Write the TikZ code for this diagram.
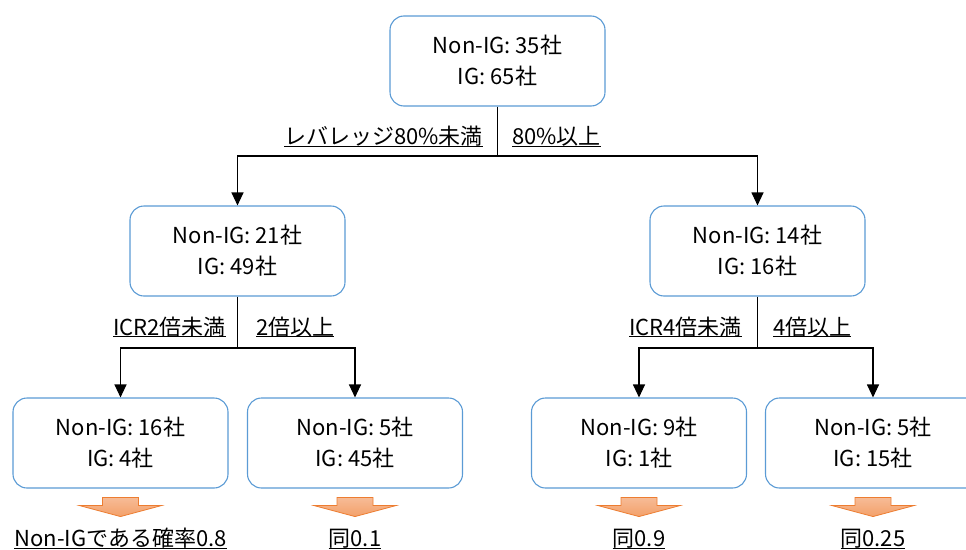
\documentclass[tikz,border=0pt]{standalone}
\usepackage{fontspec}
\setmainfont{Noto Sans CJK JP}
\usetikzlibrary{arrows.meta}
\definecolor{boxblue}{RGB}{91,155,213}
\definecolor{orline}{RGB}{237,125,49}
\definecolor{ortop}{RGB}{248,200,172}
\definecolor{orbot}{RGB}{243,160,105}
\newcommand\myul[1]{\setbox0\hbox{#1}\rlap{\rule[-2.2pt]{\wd0}{1.1pt}}\box0}
\begin{document}
\begin{tikzpicture}[x=1pt,y=-1pt,
  box/.style={draw=boxblue, line width=1.1pt, rounded corners=14pt, fill=white,
    minimum width=215pt, minimum height=90pt, align=center,
    font=\fontsize{22}{31}\selectfont, inner sep=0pt},
  conn/.style={line width=1.1pt, black},
  arr/.style={conn, -{Triangle[length=13pt,width=12pt]}},
  lab/.style={font=\fontsize{22}{26}\selectfont, inner sep=0pt},
  oarrow/.style={draw=orline, line width=0.8pt, top color=ortop, bottom color=orbot}
]
\clip (0,0) rectangle (966,549);
\useasboundingbox (0,0) rectangle (966,549);
% boxes
\node[box] (top) at (497.5,61) {Non-IG: 35社\\IG: 65社};
\node[box] (l1) at (237.5,251) {Non-IG: 21社\\IG: 49社};
\node[box] (r1) at (757.5,251) {Non-IG: 14社\\IG: 16社};
\node[box] (l2a) at (120.5,443) {Non-IG: 16社\\IG: 4社};
\node[box] (l2b) at (355,443) {Non-IG: 5社\\IG: 45社};
\node[box] (r2a) at (639,443) {Non-IG: 9社\\IG: 1社};
\node[box] (r2b) at (873,443) {Non-IG: 5社\\IG: 15社};
% splits
\coordinate (s0) at (497.5,156);
\coordinate (s1) at (237.5,348);
\coordinate (s2) at (757.5,348);
\draw[conn] (top) -- (s0);
\draw[arr] (s0) -| (l1);
\draw[arr] (s0) -| (r1);
\draw[conn] (l1) -- (s1);
\draw[arr] (s1) -| (l2a);
\draw[arr] (s1) -| (l2b);
\draw[conn] (r1) -- (s2);
\draw[arr] (s2) -| (r2a);
\draw[arr] (s2) -| (r2b);
% labels
\node[lab, anchor=base east] (t1) at (483,144.5) {\myul{レバレッジ80\%未満}};
\node[lab, anchor=base west] (t2) at (512,144.5) {\myul{80\%以上}};
\node[lab, anchor=base east] (t3) at (226,335) {\myul{ICR2倍未満}};
\node[lab, anchor=base west] (t4) at (256,335) {\myul{2倍以上}};
\node[lab, anchor=base east] (t5) at (742,335) {\myul{ICR4倍未満}};
\node[lab, anchor=base west] (t6) at (773,335) {\myul{4倍以上}};
% orange arrows
\foreach \b in {l2a,l2b,r2a,r2b}{
  \draw[oarrow] (\b.south) ++(-18,9) -- ++(36,0) -- ++(0,8) -- ++(23,0)
    -- ++(-41,11) -- ++(-41,-11) -- ++(23,0) -- cycle;
}
% bottom labels
\node[lab, anchor=base] (p1) at (120.5,546.5) {\myul{Non-IGである確率0.8}};
\node[lab, anchor=base] (p2) at (355,546.5) {\myul{同0.1}};
\node[lab, anchor=base] (p3) at (639,546.5) {\myul{同0.9}};
\node[lab, anchor=base] (p4) at (873,546.5) {\myul{同0.25}};
\end{tikzpicture}
\end{document}
